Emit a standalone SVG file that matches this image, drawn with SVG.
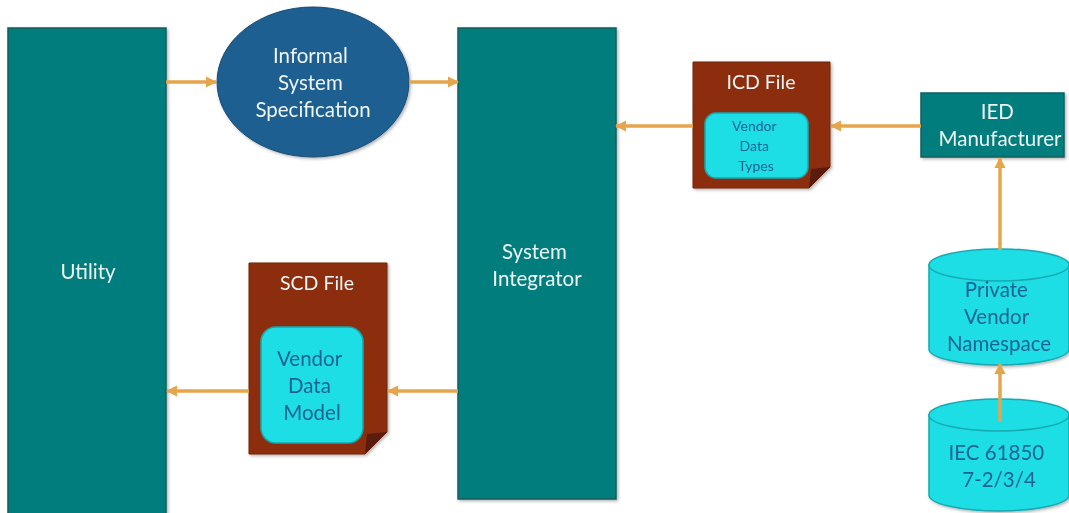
<svg xmlns="http://www.w3.org/2000/svg" width="1069" height="513" viewBox="0 0 1069 513">
  <style>
    .teal { fill: #037d7b; stroke: #0b5f5d; stroke-width: 1.5; }
    .doc { fill: #8c2f10; stroke: #6e240c; stroke-width: 1; }
    .fold { fill: #5a1c08; }
    .cyan { fill: #1fdee4; stroke: #15a9b0; stroke-width: 1.5; }
    .lbl { font-family: Lato, "Open Sans", "Liberation Sans", sans-serif; fill: #eef5f5; text-anchor: middle; }
    .in { font-family: Lato, "Open Sans", "Liberation Sans", sans-serif; fill: #1f6296; text-anchor: middle; }
    .wire { stroke: #e6a54b; stroke-width: 3.5; fill: none; marker-end: url(#tip); }
  </style>
  <defs>
    <marker id="tip" viewBox="0 0 10 10" refX="9" refY="5" markerWidth="3.2" markerHeight="3.2" orient="auto" markerUnits="strokeWidth">
      <path d="M0,0 L10,5 L0,10 Z" fill="#e6a54b"/>
    </marker>
    <filter id="sh" x="-10%" y="-10%" width="130%" height="130%">
      <feDropShadow dx="1.5" dy="1.5" stdDeviation="1.5" flood-color="#000" flood-opacity="0.3"/>
    </filter>
  </defs>
  <rect width="1069" height="513" fill="#ffffff"/>

  <g id="utility" filter="url(#sh)">
    <rect class="teal" x="8" y="28" width="158" height="500"/>
    <text class="lbl" x="88" y="279" font-size="20.5">Utility</text>
  </g>

  <g id="spec" filter="url(#sh)">
    <ellipse cx="313" cy="82" rx="96" ry="75" fill="#1f5f90" stroke="#174a72" stroke-width="1"/>
    <text class="lbl" font-size="20.5">
      <tspan x="313" y="63">Informal</tspan>
      <tspan x="313" y="90">System</tspan>
      <tspan x="313" y="117">Specification</tspan>
    </text>
  </g>

  <g id="integrator" filter="url(#sh)">
    <rect class="teal" x="458" y="28" width="158" height="471"/>
    <text class="lbl" font-size="20.5">
      <tspan x="537" y="259">System</tspan>
      <tspan x="537" y="286">Integrator</tspan>
    </text>
  </g>

  <g id="icd" filter="url(#sh)">
    <path class="doc" d="M693,62 H830 V167 L809,188 H693 Z"/>
    <path class="fold" d="M830,167 L809,188 L811,169 Z"/>
    <text class="lbl" x="761" y="89" font-size="19.5">ICD File</text>
    <rect class="cyan" x="705" y="113" width="103" height="65" rx="11"/>
    <text class="in" font-size="14">
      <tspan x="756" y="131">Vendor</tspan>
      <tspan x="756" y="151">Data</tspan>
      <tspan x="756" y="171">Types</tspan>
    </text>
  </g>

  <g id="ied" filter="url(#sh)">
    <rect class="teal" x="921" y="93" width="143" height="64"/>
    <text class="lbl" font-size="20.5">
      <tspan x="1000" y="119">IED</tspan>
      <tspan x="1000" y="146">Manufacturer</tspan>
    </text>
  </g>

  <g id="scd" filter="url(#sh)">
    <path class="doc" d="M249,263 H387 V432 L365,454 H249 Z"/>
    <path class="fold" d="M387,432 L365,454 L367,434 Z"/>
    <text class="lbl" x="317" y="290" font-size="19.5">SCD File</text>
    <rect class="cyan" x="261" y="327" width="102" height="116" rx="15"/>
    <text class="in" font-size="20.5">
      <tspan x="312" y="366">Vendor</tspan>
      <tspan x="312" y="393">Data</tspan>
      <tspan x="312" y="420">Model</tspan>
    </text>
  </g>

  <g id="namespace" filter="url(#sh)">
    <path class="cyan" d="M929,265 V349 A70,16 0 0 0 1069,349 V265 Z"/>
    <ellipse class="cyan" cx="999" cy="265" rx="70" ry="16"/>
    <text class="in" font-size="20.5">
      <tspan x="999" y="297">Private</tspan>
      <tspan x="999" y="324">Vendor</tspan>
      <tspan x="999" y="351">Namespace</tspan>
    </text>
  </g>

  <g id="iec" filter="url(#sh)">
    <path class="cyan" d="M929,415 V495 A70,16 0 0 0 1069,495 V415 Z"/>
    <ellipse class="cyan" cx="999" cy="415" rx="70" ry="16"/>
    <text class="in" font-size="20.5">
      <tspan x="999" y="460">IEC 61850</tspan>
      <tspan x="999" y="487">7-2/3/4</tspan>
    </text>
  </g>

  <g id="connectors">
    <line class="wire" x1="166" y1="82" x2="216" y2="82"/>
    <line class="wire" x1="409" y1="82" x2="458" y2="82"/>
    <line class="wire" x1="693" y1="126" x2="616" y2="126"/>
    <line class="wire" x1="921" y1="126" x2="831" y2="126"/>
    <line class="wire" x1="1000" y1="250" x2="1000" y2="158"/>
    <line class="wire" x1="1000" y1="422" x2="1000" y2="364"/>
    <line class="wire" x1="458" y1="391" x2="388" y2="391"/>
    <line class="wire" x1="249" y1="391" x2="167" y2="391"/>
  </g>
</svg>
